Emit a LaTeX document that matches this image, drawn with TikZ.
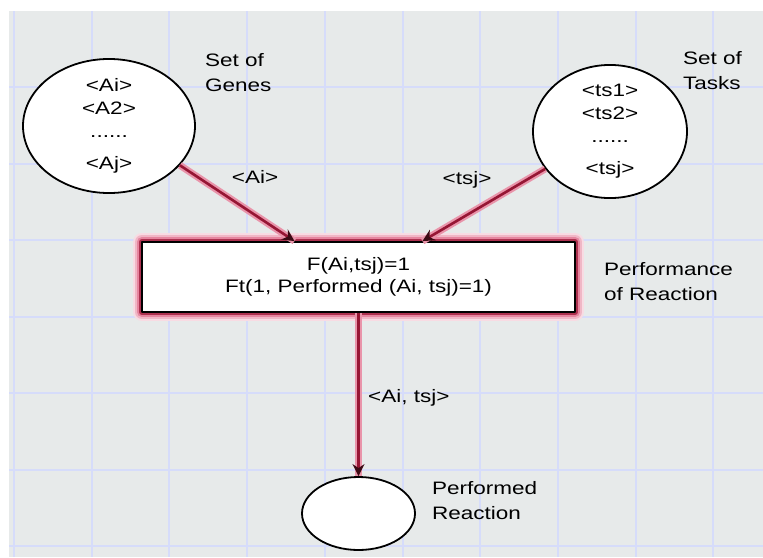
\documentclass[tikz,border=0pt]{standalone}
\usepackage{fontspec}
\setmainfont[FakeStretch=1.25]{Liberation Sans}
\usepackage{tikz}
\usetikzlibrary{arrows.meta,shapes.geometric}

\definecolor{paper}{RGB}{231,234,234}
\definecolor{gridline}{RGB}{214,220,250}
\definecolor{halo}{RGB}{226,112,142}
\definecolor{arcred}{RGB}{150,22,52}
\definecolor{tipdark}{RGB}{60,10,20}

\tikzset{
  placeoval/.style={ellipse,draw=black,line width=1.8pt,fill=white,inner sep=0pt,align=center,font=\fontsize{18}{23}\selectfont},
  transbox/.style={rectangle,draw=black,line width=1.8pt,fill=white,minimum width=433pt,minimum height=70pt,align=center,font=\fontsize{18}{22}\selectfont,
    line join=round,
    preaction={draw=halo!25,line width=18pt},preaction={draw=halo!50,line width=14pt},
    preaction={draw=halo!85,line width=10pt},preaction={draw=arcred!70!halo,line width=6pt}},
  lbl/.style={inner sep=0pt,align=left,font=\fontsize{18}{25}\selectfont},
  arc/.style={draw=arcred,line width=2.6pt,-{Stealth[length=12pt,width=12pt,inset=4pt,color=tipdark]},
    preaction={draw=halo!75,line width=7pt,arrows=-}}
}

\begin{document}
\begin{tikzpicture}[x=1pt,y=-1pt]
    \useasboundingbox (0,0) rectangle (763,557);
    % grid paper
    \fill[paper] (9,11) rectangle (763,557);
    \foreach \gx in {0,...,9}
      \draw[gridline,line width=2pt] ({14+77.7*\gx},11) -- ({14+77.7*\gx},557);
    \foreach \gy in {1,...,7}
      \draw[gridline,line width=2pt] (9,{10.5+76.5*\gy}) -- (763,{10.5+76.5*\gy});

    \node[placeoval,minimum width=172pt,minimum height=120pt] (genes) at (109,126) {<Ai>\\<A2>\\......\\[9pt]<Aj>};
    \node[placeoval,minimum width=154pt,minimum height=123pt] (tasks) at (610,131.5) {<ts1>\\<ts2>\\......\\[9pt]<tsj>};
    \node[transbox] (react) at (358.5,277) {F(Ai,tsj)=1\\Ft(1, Performed (Ai, tsj)=1)};
    \node[placeoval,minimum width=113pt,minimum height=73pt] (done) at (358.5,513.5) {};

    \node[lbl,anchor=west] (genesname) at (205,72.5) {Set of\\Genes};
    \node[lbl,anchor=west] (tasksname) at (683,70.5) {Set of\\Tasks};
    \node[lbl,anchor=west] (reactname) at (604,282) {Performance\\of Reaction};
    \node[lbl,anchor=west] (donename) at (432,500.5) {Performed\\Reaction};

    \draw[arc] (genes.-29) -- ([xshift=-64pt]react.north);
    \draw[arc] (tasks.210.6) -- ([xshift=64pt]react.north);
    \draw[arc] (react.south) -- (done.north);

    \node[lbl] (genearc) at (255,177) {<Ai>};
    \node[lbl] (taskarc) at (467,180) {<tsj>};
    \node[lbl,anchor=west] (reactarc) at (368,398) {<Ai, tsj>};
\end{tikzpicture}
\end{document}
